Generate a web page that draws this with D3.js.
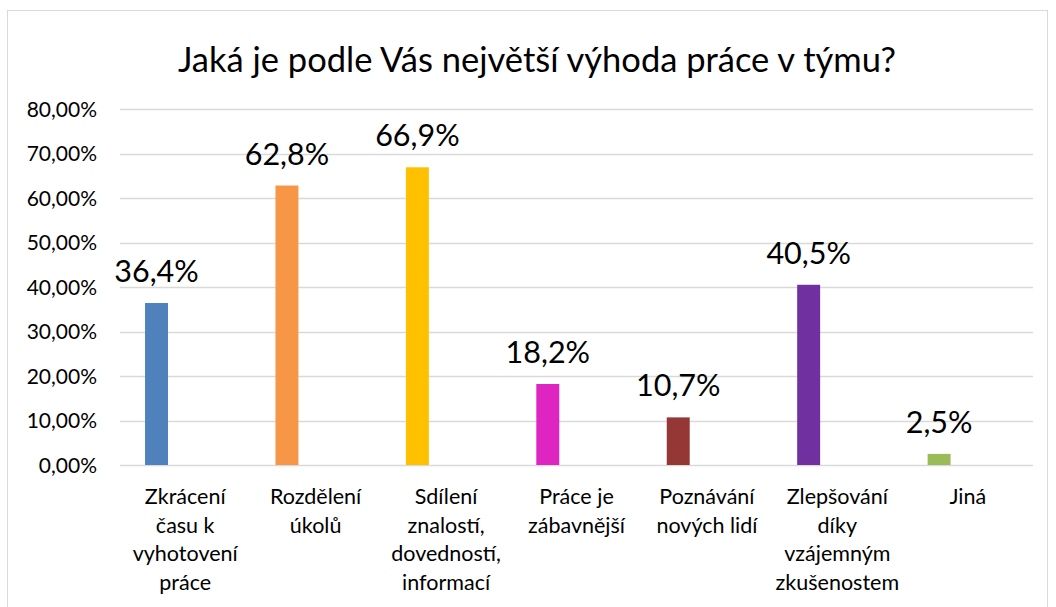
<!DOCTYPE html>
<html>
<head>
<meta charset="utf-8">
<script src="https://cdn.jsdelivr.net/npm/d3@7"></script>
<style>
  html, body { margin: 0; padding: 0; background: #ffffff; }
  svg { display: block; }
  text { font-family: Lato, "Open Sans", sans-serif; fill: #000; }
</style>
</head>
<body>
<svg id="chart" width="1056" height="607"></svg>
<script>
const title = "Jaká je podle Vás největší výhoda práce v týmu?";
const categories = [
  "Zkrácení času k vyhotovení práce",
  "Rozdělení úkolů",
  "Sdílení znalostí, dovedností, informací",
  "Práce je zábavnější",
  "Poznávání nových lidí",
  "Zlepšování díky vzájemným zkušenostem",
  "Jiná"
];
const categoryLines = [
  ["Zkrácení", "času k", "vyhotovení", "práce"],
  ["Rozdělení", "úkolů"],
  ["Sdílení", "znalostí,", "dovedností,", "informací"],
  ["Práce je", "zábavnější"],
  ["Poznávání", "nových lidí"],
  ["Zlepšování", "díky", "vzájemným", "zkušenostem"],
  ["Jiná"]
];
const values = [0.364, 0.628, 0.669, 0.182, 0.107, 0.405, 0.025];
const valueLabels = ["36,4%", "62,8%", "66,9%", "18,2%", "10,7%", "40,5%", "2,5%"];
const colors = ["#4f81bd", "#f79646", "#ffc000", "#de25c1", "#953735", "#7030a0", "#9bbb59"];
const yTicks = [0, 0.1, 0.2, 0.3, 0.4, 0.5, 0.6, 0.7, 0.8];
const yTickLabels = ["0,00%", "10,00%", "20,00%", "30,00%", "40,00%", "50,00%", "60,00%", "70,00%", "80,00%"];

const svg = d3.select("#chart");

// chart border
svg.append("rect")
  .attr("x", 7.5).attr("y", 10.5)
  .attr("width", 1040).attr("height", 620)
  .attr("fill", "none").attr("stroke", "#d9d9d9").attr("stroke-width", 1);

const x = d3.scaleBand().domain(categories).range([120, 1033]).padding(0);
const y = d3.scaleLinear().domain([0, 0.8]).range([465, 109]);

// gridlines
svg.append("g").selectAll("line").data(yTicks).join("line")
  .attr("x1", 120).attr("x2", 1033)
  .attr("y1", d => Math.round(y(d)) + 0.5).attr("y2", d => Math.round(y(d)) + 0.5)
  .attr("stroke", "#d9d9d9").attr("stroke-width", 1.3);

// y axis labels
const yAxis = d3.axisLeft(y).tickValues(yTicks)
  .tickFormat((d, i) => yTickLabels[i]).tickSize(0).tickPadding(0);
const gy = svg.append("g").attr("transform", "translate(97,0)").call(yAxis);
gy.select(".domain").remove();
gy.selectAll("text").attr("font-size", 21).attr("font-family", "Lato, sans-serif").attr("fill", "#000").attr("dy", "0.35em");

// bars (first slot of each category cluster)
const barOffset = x.bandwidth() * 0.192;
const barWidth = x.bandwidth() * 0.176;
svg.append("g").selectAll("rect").data(values).join("rect")
  .attr("x", (d, i) => x(categories[i]) + barOffset)
  .attr("width", barWidth)
  .attr("y", d => y(d))
  .attr("height", d => y(0) - y(d))
  .attr("fill", (d, i) => colors[i]);

// value labels
svg.append("g").selectAll("text").data(values).join("text")
  .attr("x", (d, i) => x(categories[i]) + barOffset + barWidth / 2)
  .attr("y", d => y(d) - 21)
  .attr("text-anchor", "middle")
  .attr("font-size", 30.5)
  .text((d, i) => valueLabels[i]);

// category labels
const cat = svg.append("g").selectAll("text").data(categories).join("text")
  .attr("x", d => x(d) + x.bandwidth() / 2)
  .attr("y", 504)
  .attr("text-anchor", "middle")
  .attr("font-size", 21.5);
cat.selectAll("tspan").data((d, i) => categoryLines[i]).join("tspan")
  .attr("x", function() { return d3.select(this.parentNode).attr("x"); })
  .attr("dy", (d, j) => j === 0 ? 0 : 28.5)
  .text(d => d);

// title
svg.append("text")
  .attr("x", 537).attr("y", 72)
  .attr("text-anchor", "middle")
  .attr("font-size", 34.5)
  .text(title);
</script>
</body>
</html>
